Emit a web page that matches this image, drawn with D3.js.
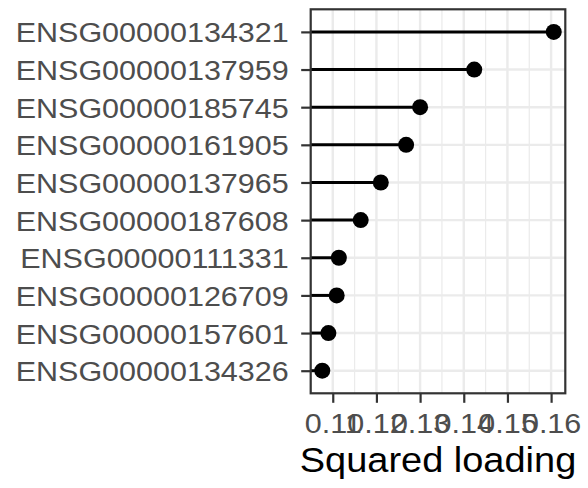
<!DOCTYPE html>
<html>
<head>
<meta charset="utf-8">
<script src="https://cdn.jsdelivr.net/npm/d3@7/dist/d3.min.js"></script>
<style>
  html, body { margin: 0; padding: 0; background: #ffffff; }
  svg { display: block; }
  text { font-family: "Liberation Sans", Arial, Helvetica, sans-serif; }
</style>
</head>
<body>
<svg id="chart" width="588" height="488"></svg>
<script>
// Genes ordered top to bottom, with their squared loadings
const genes = [
  "ENSG00000134321", "ENSG00000137959", "ENSG00000185745", "ENSG00000161905",
  "ENSG00000137965", "ENSG00000187608", "ENSG00000111331", "ENSG00000126709",
  "ENSG00000157601", "ENSG00000134326"
];
const loadings = [0.1606, 0.1424, 0.1300, 0.1268, 0.1210, 0.1164, 0.1114, 0.1109, 0.1090, 0.1076];
const xTicks = [0.11, 0.12, 0.13, 0.14, 0.15, 0.16];
const xMinorTicks = [0.105, 0.115, 0.125, 0.135, 0.145, 0.155];
const xTitle = "Squared loading";

const data = genes.map((g, i) => ({ gene: g, value: loadings[i] }));

const svg = d3.select("#chart");
const panel = { left: 310.7, right: 565.3, top: 9.3, bottom: 393.3 };
const textWiden = 1.09;   // glyphs are drawn slightly wide

// Continuous axis with 5% expansion on each side of the data range
const lo = d3.min(loadings), hi = d3.max(loadings);
const pad = (hi - lo) * 0.05;
const x = d3.scaleLinear().domain([lo - pad, hi + pad]).range([panel.left, panel.right]);
const y = d3.scalePoint().domain(genes).range([panel.top, panel.bottom]).padding(0.6);

const grid = svg.append("g");
// minor vertical grid
grid.selectAll("line.minor").data(xMinorTicks.filter(t => t >= x.domain()[0] && t <= x.domain()[1]))
  .join("line").attr("class", "minor")
  .attr("x1", d => x(d)).attr("x2", d => x(d))
  .attr("y1", panel.top).attr("y2", panel.bottom)
  .attr("stroke", "#EBEBEB").attr("stroke-width", 1.2);
// major vertical grid
grid.selectAll("line.majx").data(xTicks)
  .join("line").attr("class", "majx")
  .attr("x1", d => x(d)).attr("x2", d => x(d))
  .attr("y1", panel.top).attr("y2", panel.bottom)
  .attr("stroke", "#EBEBEB").attr("stroke-width", 2.4);
// major horizontal grid
grid.selectAll("line.majy").data(genes)
  .join("line").attr("class", "majy")
  .attr("x1", panel.left).attr("x2", panel.right)
  .attr("y1", d => y(d)).attr("y2", d => y(d))
  .attr("stroke", "#EBEBEB").attr("stroke-width", 2.4);

// Lollipops
const marks = svg.append("g");
marks.selectAll("line.seg").data(data).join("line").attr("class", "seg")
  .attr("x1", x(x.domain()[0])).attr("x2", d => x(d.value))
  .attr("y1", d => y(d.gene)).attr("y2", d => y(d.gene))
  .attr("stroke", "#000").attr("stroke-width", 3);
marks.selectAll("circle").data(data).join("circle")
  .attr("cx", d => x(d.value)).attr("cy", d => y(d.gene))
  .attr("r", 8).attr("fill", "#000");

// Panel border
svg.append("rect")
  .attr("x", panel.left).attr("y", panel.top)
  .attr("width", panel.right - panel.left).attr("height", panel.bottom - panel.top)
  .attr("fill", "none").attr("stroke", "#333333").attr("stroke-width", 2.2);

// X axis
const xAxis = d3.axisBottom(x).tickValues(xTicks).tickFormat(d3.format(".2f"))
  .tickSize(9.5).tickPadding(4);
const gx = svg.append("g").attr("transform", `translate(0,${panel.bottom})`).call(xAxis);
gx.select(".domain").remove();
gx.selectAll(".tick line").attr("stroke", "#333333").attr("stroke-width", 2.2);
gx.selectAll(".tick text").attr("fill", "#4D4D4D").attr("font-size", 28)
  .attr("font-family", "Liberation Sans, Arial, sans-serif")
  .attr("dy", null).attr("y", 0)
  .attr("transform", `translate(0,40) scale(${textWiden},1)`);

// Y axis
const yAxis = d3.axisLeft(y).tickSize(9.5).tickPadding(3);
const gy = svg.append("g").attr("transform", `translate(${panel.left},0)`).call(yAxis);
gy.select(".domain").remove();
gy.selectAll(".tick line").attr("stroke", "#333333").attr("stroke-width", 2.2);
gy.selectAll(".tick text").attr("fill", "#4D4D4D").attr("font-size", 28)
  .attr("font-family", "Liberation Sans, Arial, sans-serif")
  .attr("x", 0).attr("dy", "0.36em")
  .attr("transform", `translate(-22,0) scale(${textWiden},1)`);

// X axis title
svg.append("text")
  .attr("x", 0).attr("y", 0)
  .attr("transform", `translate(${(panel.left + panel.right) / 2},472) scale(1.07,1)`)
  .attr("text-anchor", "middle").attr("font-size", 35.5).attr("fill", "#000")
  .text(xTitle);
</script>
</body>
</html>
